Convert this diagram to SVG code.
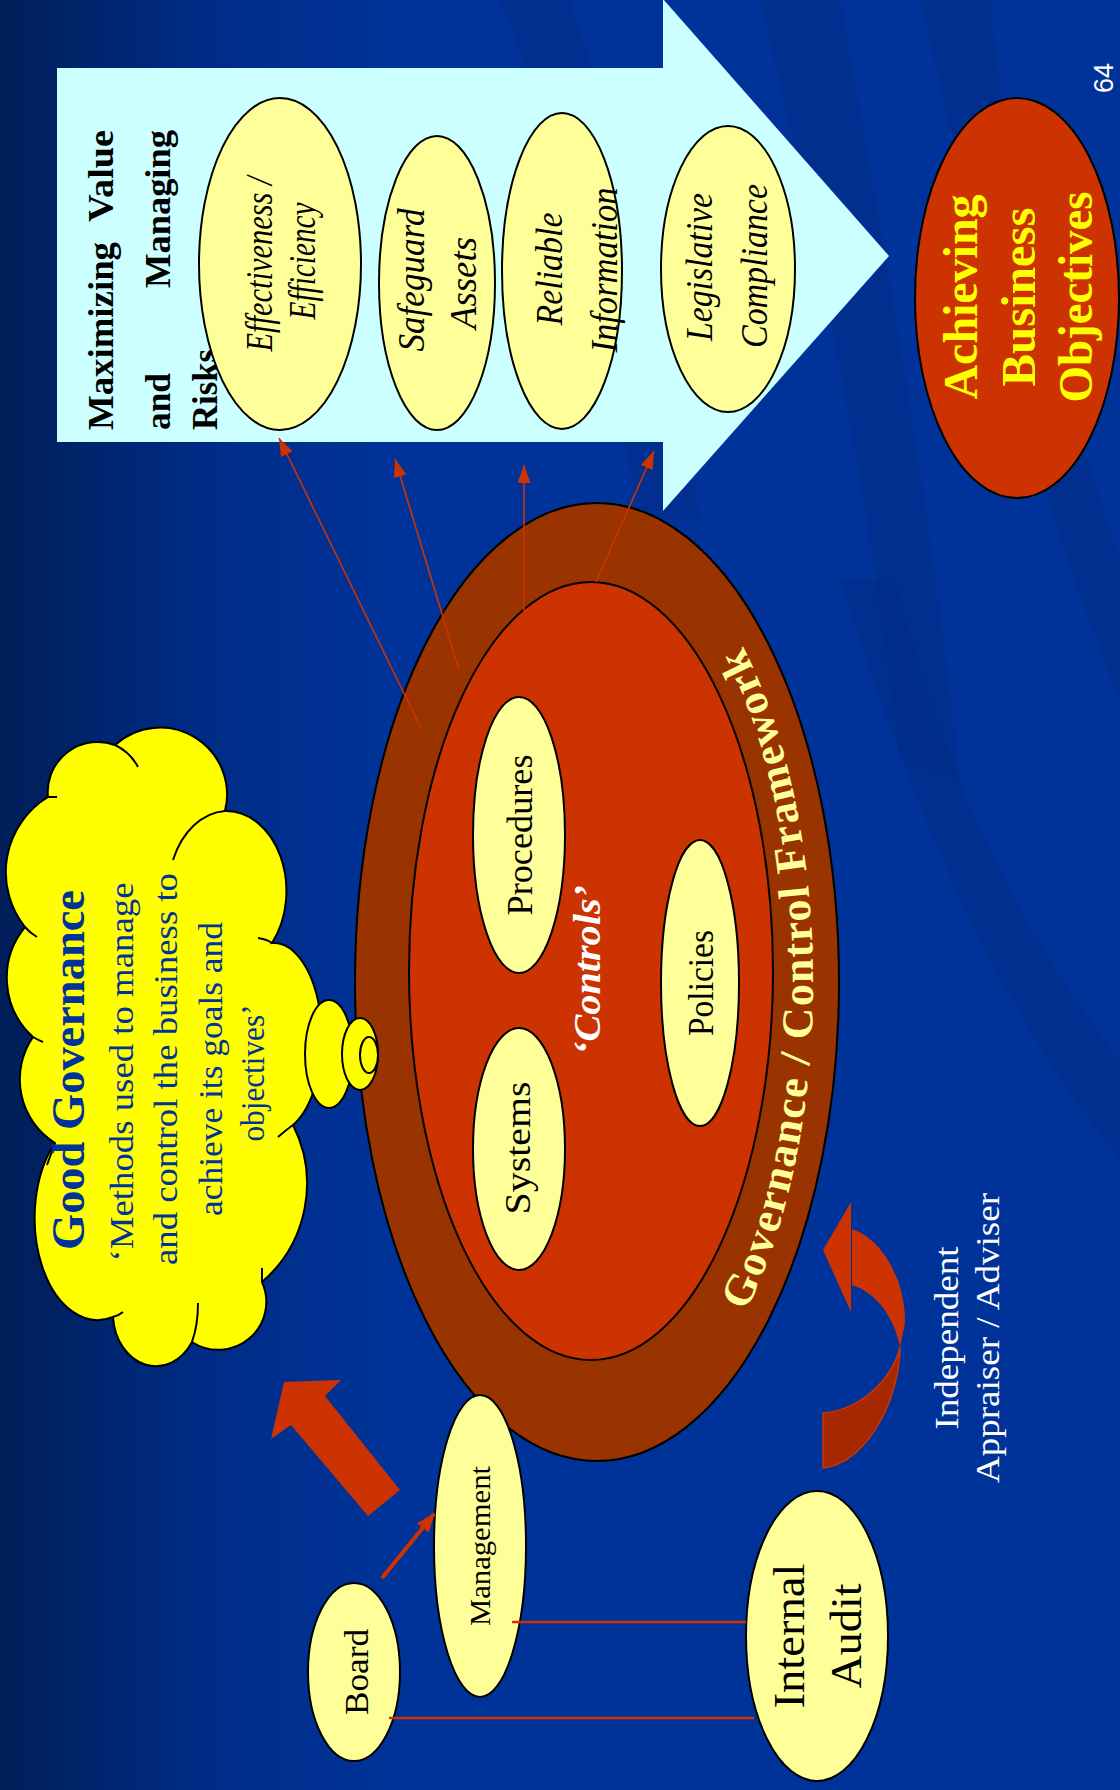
<svg xmlns="http://www.w3.org/2000/svg" width="1120" height="1790" viewBox="0 0 1120 1790">
<defs>
<linearGradient id="bg" x1="0" y1="0" x2="1" y2="0">
<stop offset="0" stop-color="#001E58"/>
<stop offset="0.18" stop-color="#002C86"/>
<stop offset="0.35" stop-color="#003399"/>
<stop offset="1" stop-color="#003399"/>
</linearGradient>
<marker id="ah" viewBox="0 0 10 10" refX="10" refY="5" markerUnits="userSpaceOnUse" markerWidth="18" markerHeight="13" orient="auto" preserveAspectRatio="none"><path d="M0,0 L10,5 L0,10 Z" fill="#CC3300"/></marker>
<marker id="ah2" viewBox="0 0 10 10" refX="9" refY="5" markerUnits="userSpaceOnUse" markerWidth="20" markerHeight="15" orient="auto" preserveAspectRatio="none"><path d="M0,0 L10,5 L0,10 Z" fill="#CC3300"/></marker>
<path id="govPath" d="M 597 1437 A 216 455 0 0 0 813 982 A 216 455 0 0 0 597 527"/>
<style>
.sw{fill:#002A80;opacity:.4}
.yel{fill:#FFFF99;stroke:#000;stroke-width:2}
.t{font-family:"Liberation Serif","Times New Roman",serif}
.i{font-style:italic}
.b{font-weight:bold}
.conn{stroke:#CC3300;stroke-width:1.6;fill:none}
.tail{fill:none;stroke:#000;stroke-width:2}
</style>
</defs>

<rect width="1120" height="1790" fill="url(#bg)"/>
<g id="swooshes">
<path class="sw" d="M 500 0 C 560 150 600 300 640 520 L 700 520 C 660 300 610 120 570 0 Z"/>
<path class="sw" d="M 760 0 C 820 250 870 500 900 760 L 960 780 C 930 500 880 220 840 0 Z"/>
<path class="sw" d="M 920 0 C 980 250 1030 480 1120 700 L 1120 560 C 1060 380 1010 200 990 0 Z"/>
<path class="sw" d="M 840 580 C 910 800 990 1000 1120 1160 L 1120 1060 C 1010 920 940 760 895 580 Z"/>
</g>

<g id="big-arrow">
<polygon points="57,68 663,68 663,-1 889,256 663,511 663,442 57,442" fill="#CCFFFF"/>
<g class="t b" font-size="35" fill="#000">
<text text-anchor="start" transform="translate(113,430) rotate(-90)" textLength="188" lengthAdjust="spacingAndGlyphs">Maximizing</text>
<text text-anchor="end" transform="translate(113,130) rotate(-90)" textLength="92" lengthAdjust="spacingAndGlyphs">Value</text>
<text text-anchor="start" transform="translate(170,430) rotate(-90)" textLength="57" lengthAdjust="spacingAndGlyphs">and</text>
<text text-anchor="end" transform="translate(170,130) rotate(-90)" textLength="158" lengthAdjust="spacingAndGlyphs">Managing</text>
<text text-anchor="start" transform="translate(217,430) rotate(-90)" textLength="81" lengthAdjust="spacingAndGlyphs">Risks</text>
</g>
</g>

<g id="effectiveness">
<ellipse class="yel" cx="280" cy="264" rx="81" ry="166"/>
<g class="t i" font-size="38" text-anchor="middle">
<text transform="translate(272,264) rotate(-90)" textLength="175" lengthAdjust="spacingAndGlyphs">Effectiveness /</text>
<text transform="translate(315,261) rotate(-90)" textLength="117" lengthAdjust="spacingAndGlyphs">Efficiency</text>
</g>
</g>
<g id="safeguard">
<ellipse class="yel" cx="437" cy="283" rx="58" ry="147"/>
<g class="t i" font-size="38" text-anchor="middle">
<text transform="translate(424,280) rotate(-90)" textLength="143" lengthAdjust="spacingAndGlyphs">Safeguard</text>
<text transform="translate(476,283) rotate(-90)" textLength="92" lengthAdjust="spacingAndGlyphs">Assets</text>
</g>
</g>
<g id="reliable">
<ellipse class="yel" cx="562" cy="271" rx="60" ry="158"/>
<g class="t i" font-size="38" text-anchor="middle">
<text transform="translate(562,269) rotate(-90)" textLength="113" lengthAdjust="spacingAndGlyphs">Reliable</text>
<text transform="translate(617,270) rotate(-90)" textLength="165" lengthAdjust="spacingAndGlyphs">Information</text>
</g>
</g>
<g id="legislative">
<ellipse class="yel" cx="728" cy="269" rx="67" ry="143"/>
<g class="t i" font-size="38" text-anchor="middle">
<text transform="translate(712,267) rotate(-90)" textLength="148" lengthAdjust="spacingAndGlyphs">Legislative</text>
<text transform="translate(767,266) rotate(-90)" textLength="164" lengthAdjust="spacingAndGlyphs">Compliance</text>
</g>
</g>

<g id="achieving">
<ellipse cx="1017" cy="298" rx="102" ry="200" fill="#CC3300" stroke="#000" stroke-width="2"/>
<g class="t b" font-size="48" fill="#FFFF00" text-anchor="middle">
<text transform="translate(977,297) rotate(-90)" textLength="205" lengthAdjust="spacingAndGlyphs">Achieving</text>
<text transform="translate(1035,297) rotate(-90)" textLength="179" lengthAdjust="spacingAndGlyphs">Business</text>
<text transform="translate(1092,297) rotate(-90)" textLength="211" lengthAdjust="spacingAndGlyphs">Objectives</text>
</g>
</g>

<text id="page-number" transform="translate(1113,78) rotate(-90)" text-anchor="middle" font-family="Liberation Sans, Arial, sans-serif" font-size="27" fill="#FFFFFF">64</text>

<g id="framework">
<ellipse cx="597" cy="982" rx="242" ry="479" fill="#993300" stroke="#000" stroke-width="2"/>
<ellipse cx="591" cy="971" rx="182" ry="389" fill="#CC3300" stroke="#000" stroke-width="2"/>
<text class="t b" font-size="44" fill="#FFFF99" letter-spacing="1.5"><textPath href="#govPath" startOffset="205">Governance / Control Framework</textPath></text>
<text class="t b i" font-size="38" fill="#FFFFFF" text-anchor="middle" transform="translate(600,970) rotate(-90)" textLength="170" lengthAdjust="spacingAndGlyphs">‘Controls’</text>
</g>
<g id="procedures">
<ellipse class="yel" cx="519" cy="835" rx="46" ry="138"/>
<text class="t" font-size="36" text-anchor="middle" transform="translate(532,835) rotate(-90)" textLength="161" lengthAdjust="spacingAndGlyphs">Procedures</text>
</g>
<g id="systems">
<ellipse class="yel" cx="519" cy="1149" rx="46" ry="121"/>
<text class="t" font-size="36" text-anchor="middle" transform="translate(530,1148) rotate(-90)" textLength="133" lengthAdjust="spacingAndGlyphs">Systems</text>
</g>
<g id="policies">
<ellipse class="yel" cx="700" cy="983" rx="39" ry="143"/>
<text class="t" font-size="36" text-anchor="middle" transform="translate(713,983) rotate(-90)" textLength="106" lengthAdjust="spacingAndGlyphs">Policies</text>
</g>

<g id="good-governance">
<path d="M 48 797 A 50 50 0 0 1 115 745 A 67 67 0 0 1 225 811 A 60 80 0 0 1 272 943 A 48 95 0 0 1 293 1125 A 130 130 0 0 1 262 1282 A 48 48 0 0 1 192 1342 A 43 53 0 0 1 113 1317 A 63 102 0 0 1 55 1143 A 75 75 0 0 1 33 1037 A 80 80 0 0 1 25 927 A 88 88 0 0 1 48 797 Z" fill="#FFFF00" stroke="#000" stroke-width="2"/>
<path class="tail" d="M 115 745 A 50 50 0 0 1 138 767"/>
<path class="tail" d="M 173 860 A 60 80 0 0 1 225 811"/>
<path class="tail" d="M 258 938 Q 266 939 272 943"/>
<path class="tail" d="M 278 1137 Q 286 1130 293 1125"/>
<path class="tail" d="M 262 1268 L 262 1282"/>
<path class="tail" d="M 198 1303 Q 198 1325 192 1342"/>
<path class="tail" d="M 123 1312 Q 118 1316 113 1317"/>
<path class="tail" d="M 47 1165 L 55 1143"/>
<path class="tail" d="M 43 1042 Q 38 1040 33 1037"/>
<path class="tail" d="M 37 937 Q 30 933 25 927"/>
<path class="tail" d="M 57 797 L 48 797"/>
<ellipse cx="329" cy="1054" rx="24" ry="54" fill="#FFFF00" stroke="#000" stroke-width="2"/>
<ellipse cx="360" cy="1054" rx="18" ry="36" fill="#FFFF00" stroke="#000" stroke-width="2"/>
<ellipse cx="369" cy="1055" rx="9" ry="18" fill="#FFFF00" stroke="#000" stroke-width="2"/>
<g class="t" fill="#003399" text-anchor="middle">
<text class="b" font-size="46" transform="translate(84,1070) rotate(-90)" textLength="360" lengthAdjust="spacingAndGlyphs">Good Governance</text>
<text font-size="34" transform="translate(133,1072) rotate(-90)" textLength="379" lengthAdjust="spacingAndGlyphs">‘Methods used to manage</text>
<text font-size="34" transform="translate(177,1069) rotate(-90)" textLength="392" lengthAdjust="spacingAndGlyphs">and control the business to</text>
<text font-size="34" transform="translate(222,1069) rotate(-90)" textLength="294" lengthAdjust="spacingAndGlyphs">achieve its goals and</text>
<text font-size="34" transform="translate(264,1073) rotate(-90)" textLength="137" lengthAdjust="spacingAndGlyphs">objectives’</text>
</g>
</g>

<g id="board">
<ellipse class="yel" cx="354" cy="1672" rx="46" ry="89"/>
<text class="t" font-size="34" text-anchor="middle" transform="translate(368,1672) rotate(-90)" textLength="86" lengthAdjust="spacingAndGlyphs">Board</text>
</g>
<g id="management">
<ellipse class="yel" cx="480" cy="1546" rx="46" ry="151"/>
<text class="t" font-size="29" text-anchor="middle" transform="translate(490,1546) rotate(-90)" textLength="160" lengthAdjust="spacingAndGlyphs">Management</text>
</g>
<g id="internal-audit">
<ellipse class="yel" cx="817" cy="1636" rx="71" ry="145"/>
<g class="t" font-size="45" text-anchor="middle">
<text transform="translate(804,1636) rotate(-90)" textLength="145" lengthAdjust="spacingAndGlyphs">Internal</text>
<text transform="translate(861,1636) rotate(-90)" textLength="105" lengthAdjust="spacingAndGlyphs">Audit</text>
</g>
</g>

<g id="appraiser">
<path d="M 852 1229 C 885 1240 906 1285 905 1323 L 900 1347 C 895 1320 878 1293 852 1285 Z" fill="#CC3300"/>
<path d="M 851 1202 L 823 1250 L 851 1312 Z" fill="#CC3300"/>
<path d="M 900 1347 C 900 1395 870 1462 823 1468 L 823 1413 C 860 1410 892 1380 900 1347 Z" fill="#A52800" stroke="#CC3300" stroke-width="1.5"/>
<g class="t" font-size="34" fill="#FFFFFF" text-anchor="middle">
<text transform="translate(958,1338) rotate(-90)" textLength="183" lengthAdjust="spacingAndGlyphs">Independent</text>
<text transform="translate(999,1338) rotate(-90)" textLength="290" lengthAdjust="spacingAndGlyphs">Appraiser / Adviser</text>
</g>
</g>

<g id="connectors">
<line class="conn" x1="421" y1="728" x2="279" y2="438" marker-end="url(#ah)"/>
<line class="conn" x1="459" y1="670" x2="395" y2="459" marker-end="url(#ah)"/>
<line class="conn" x1="524" y1="611" x2="524" y2="465" marker-end="url(#ah)"/>
<line class="conn" x1="596" y1="582" x2="654" y2="451" marker-end="url(#ah)"/>
<line x1="382" y1="1578" x2="434" y2="1514" stroke="#CC3300" stroke-width="4" marker-end="url(#ah2)"/>
<line x1="512" y1="1622" x2="746" y2="1622" stroke="#CC3300" stroke-width="2.5"/>
<line x1="389" y1="1718" x2="754" y2="1718" stroke="#CC3300" stroke-width="2.5"/>
<polygon points="284,1382 341,1380 325,1396 400,1490 368,1516 291,1425 271,1439" fill="#CC3300"/>
</g>
</svg>
